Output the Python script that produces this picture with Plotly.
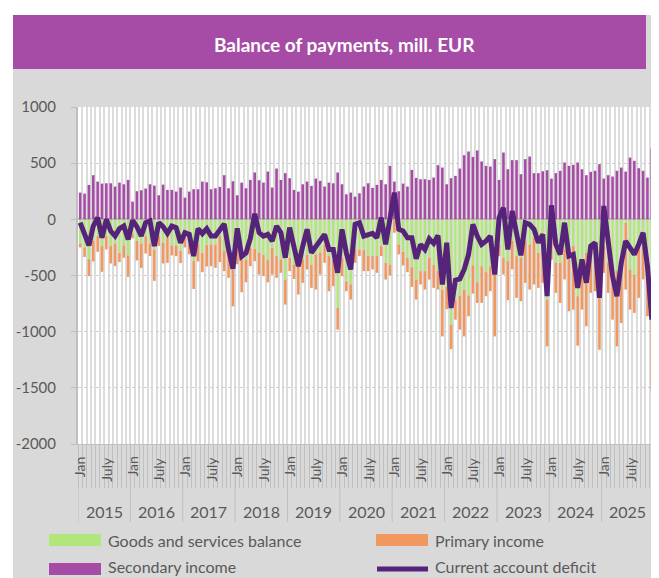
import plotly.graph_objects as go

years = [str(y) for y in range(2015, 2026)]
month_labels = {0: "Jan", 6: "July"}

secondary = [238, 229, 306, 393, 336, 318, 321, 321, 292, 327, 312, 351,
             158, 250, 259, 274, 312, 300, 214, 309, 262, 262, 247, 283,
             193, 247, 268, 268, 336, 330, 268, 277, 289, 393, 277, 339,
             214, 327, 277, 351, 417, 348, 327, 425, 283, 452, 351, 411,
             366, 262, 247, 312, 336, 298, 363, 342, 292, 327, 321, 417,
             312, 223, 238, 202, 232, 292, 321, 280, 307, 351, 312, 476,
             336, 250, 318, 292, 440, 369, 357, 357, 351, 372, 482, 461,
             312, 366, 387, 452, 571, 604, 556, 613, 515, 476, 470, 536,
             351, 595, 446, 527, 527, 402, 536, 559, 411, 411, 428, 437,
             363, 411, 432, 506, 476, 485, 506, 446, 393, 423, 432, 491,
             363, 393, 381, 432, 461, 425, 550, 521, 455, 432, 372, 631]

goods = [-214, -250, -355, -190, -149, -238, -149, -238, -214, -298, -232, -321,
         -125, -193, -214, -149, -214, -268, -149, -208, -155, -232, -232, -280,
         -140, -215, -370, -220, -300, -230, -223, -223, -149, -283, -313, -446,
         -200, -327, -357, -253, -262, -298, -318, -363, -253, -327, -357, -536,
         -342, -402, -327, -357, -313, -402, -313, -298, -223, -327, -357, -789,
         -342, -551, -580, -268, -268, -274, -327, -327, -327, -238, -387, -402,
         -10, -223, -289, -342, -426, -536, -461, -461, -342, -402, -461, -625,
         -600, -937, -714, -679, -625, -676, -408, -560, -417, -470, -417, -491,
         -223, -342, -372, -193, -327, -342, -193, -223, -164, -298, -119, -714,
         -30, -387, -387, -268, -253, -238, -684, -417, -298, -223, -223, -610,
         -238, -387, -432, -461, -387, -30, -446, -491, -238, -238, -387, -470]

primary = [-36, -85, -151, -185, -140, -229, -119, -155, -203, -83, -110, -191,
           -45, -173, -218, -155, -113, -280, -89, -185, -232, -89, -95, -110,
           -110, -95, -250, -155, -170, -190, -194, -209, -232, -178, -208, -328,
           -200, -322, -203, -164, -110, -193, -188, -197, -238, -194, -119, -223,
           -119, -128, -343, -208, -133, -208, -312, -193, -164, -313, -238, -193,
           -164, -89, -134, -119, -59, -187, -134, -119, -149, -89, -149, -98,
           -109, -89, -122, -128, -175, -178, -119, -164, -194, -208, -164, -417,
           -200, -218, -179, -303, -417, -187, -253, -184, -327, -214, -223, -551,
           -104, -149, -348, -253, -372, -387, -372, -402, -416, -312, -446, -417,
           -330, -268, -357, -267, -565, -566, -441, -387, -654, -432, -417, -551,
           -238, -268, -461, -670, -536, -595, -358, -342, -461, -297, -476, -1063]

current = [-30, -119, -232, -60, 15, -164, 0, -104, -149, -83, -60, -179,
           -9, -65, -149, -30, -15, -238, -30, -65, -125, -60, -74, -208,
           -119, -134, -327, -83, -128, -83, -149, -149, -89, -40, -268, -440,
           -80, -330, -300, -170, 50, -119, -150, -134, -193, -60, -119, -342,
           -74, -238, -417, -238, -89, -298, -240, -179, -134, -268, -268, -476,
           -89, -300, -446, -45, -30, -149, -134, -125, -164, 15, -223, 0,
           238, -89, -104, -164, -164, -351, -223, -268, -173, -214, -143, -580,
           -208, -789, -542, -530, -446, -312, -45, -149, -223, -193, -149, -491,
           15, 104, -268, 74, -149, -321, -30, -45, -89, -208, -134, -684,
           125, -223, -312, -30, -327, -312, -610, -357, -565, -238, -208, -699,
           119, -238, -506, -684, -387, -193, -253, -312, -223, -119, -417, -893]

series_names = ["Goods and services balance", "Primary income",
                "Secondary income", "Current account deficit"]
colors = ["#b2e67c", "#f0985f", "#a64ca6", "#55237a"]

n = len(secondary)
x = list(range(n))

# page is shown with an 8px body margin; the figure is sized to fit
OFF = 8
W, H = 659 - OFF, 578 - OFF
PL, PT, PR, PB = 78, 107, 654, 444   # plot area in page pixels
L, T = PL - OFF, PT - OFF
R = W - (PR - OFF)
B = H - (PB - OFF)
pw, ph = PR - PL, PB - PT


def px(p):
    return (p - PL) / pw


def py(p):
    return (PB - p) / ph


fig = go.Figure()
fig.add_trace(go.Bar(x=x, y=goods, name=series_names[0], marker_color=colors[0],
                     marker_line_width=0, width=0.6))
fig.add_trace(go.Bar(x=x, y=primary, name=series_names[1], marker_color=colors[1],
                     marker_line_width=0, width=0.6))
fig.add_trace(go.Bar(x=x, y=secondary, name=series_names[2], marker_color=colors[2],
                     marker_line_width=0, width=0.6))
fig.add_trace(go.Scatter(x=x, y=current, name=series_names[3], mode="lines",
                         line=dict(color=colors[3], width=5)))

font_c = "#595959"
fam = "Lato, sans-serif"

shapes = []
annotations = []

# white strips outside the grey chart frame
shapes.append(dict(type="rect", xref="paper", yref="paper",
                   x0=px(0), x1=px(700), y0=py(15), y1=py(-10),
                   fillcolor="white", line_width=0))
shapes.append(dict(type="rect", xref="paper", yref="paper",
                   x0=px(-10), x1=px(13), y0=py(600), y1=py(-10),
                   fillcolor="white", line_width=0))

# title banner
shapes.append(dict(type="rect", xref="paper", yref="paper",
                   x0=px(13), x1=px(646), y0=py(69), y1=py(15),
                   fillcolor="#a64ca6", line_width=0))
annotations.append(dict(text="<b>Balance of payments, mill. EUR</b>", xref="paper", yref="paper",
                        x=px(344), y=py(44), xanchor="center", yanchor="middle", showarrow=False,
                        font=dict(family=fam, size=19, color="white")))

# year separators
for k in range(len(years) + 1):
    shapes.append(dict(type="line", xref="x", yref="paper",
                       x0=k * 12 - 0.5, x1=k * 12 - 0.5, y0=0, y1=py(522),
                       line=dict(color="#bfbfbf", width=1)))

for k, yr in enumerate(years):
    annotations.append(dict(text=yr, xref="x", yref="paper", x=k * 12 + 5.5, y=py(511),
                            xanchor="center", yanchor="middle",
                            showarrow=False, font=dict(family=fam, size=16, color=font_c)))
    for m, lab in month_labels.items():
        annotations.append(dict(text=lab, xref="x", yref="paper", x=k * 12 + m, y=py(455),
                                xanchor="center", yanchor="top", textangle=-90,
                                showarrow=False, font=dict(family=fam, size=14, color=font_c)))

# legend
leg = [(0, 49, 540, 540), (1, 376, 540, 540), (2, 49, 569, 566), (3, 376, 569, 566)]
for idx, lx, ly, ty in leg:
    if idx == 3:
        shapes.append(dict(type="line", xref="paper", yref="paper",
                           x0=px(lx + 1), x1=px(lx + 52), y0=py(ly), y1=py(ly),
                           line=dict(color=colors[3], width=5)))
    else:
        shapes.append(dict(type="rect", xref="paper", yref="paper",
                           x0=px(lx), x1=px(lx + 52), y0=py(ly + 6), y1=py(ly - 6),
                           fillcolor=colors[idx], line_width=0))
    annotations.append(dict(text=series_names[idx], xref="paper", yref="paper",
                            x=px(lx + 57), y=py(ty), xanchor="left", yanchor="middle",
                            showarrow=False, font=dict(family=fam, size=16, color=font_c)))

fig.update_layout(
    width=W, height=H, margin=dict(l=L, r=R, t=T, b=B, pad=0),
    barmode="relative", showlegend=False,
    paper_bgcolor="#d9d9d9", plot_bgcolor="white",
    font=dict(family=fam, color=font_c),
    shapes=shapes, annotations=annotations,
    xaxis=dict(range=[-0.5, n - 0.5], tickmode="array",
               tickvals=[i - 0.5 for i in range(n + 1)], showticklabels=False,
               ticks="outside", ticklen=43, tickcolor="#bfbfbf", tickwidth=1,
               showgrid=True, gridcolor="#dcdcdc", gridwidth=1.5,
               showline=True, linecolor="#bfbfbf", linewidth=1, zeroline=False),
    yaxis=dict(range=[-2000, 1000], tickmode="array",
               tickvals=[1000, 500, 0, -500, -1000, -1500, -2000],
               ticktext=["1000", "500", "0", "-500", "-1000", "-1500", "-2000"],
               ticks="outside", ticklen=5, tickcolor="#bfbfbf", ticklabelstandoff=12,
               tickfont=dict(family=fam, size=15, color=font_c),
               showgrid=True, gridcolor="#d0d0d0", griddash="dot", gridwidth=1,
               showline=True, linecolor="#bfbfbf", linewidth=2,
               zeroline=True, zerolinecolor="#bfbfbf", zerolinewidth=2),
)

fig.write_html("out.html")
